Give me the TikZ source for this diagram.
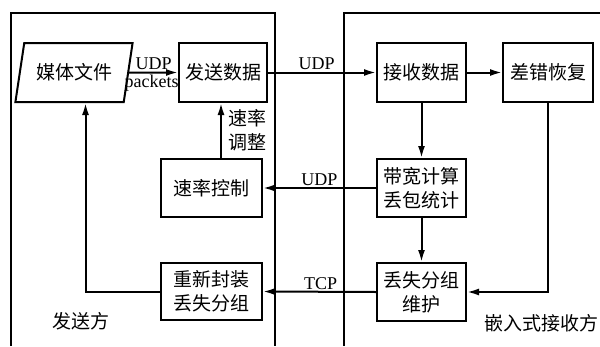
\documentclass[tikz,border=0pt]{standalone}
\usepackage{fontspec}
\setmainfont{Liberation Serif}
\newfontfamily\cjk{Noto Sans CJK SC}
\usetikzlibrary{shapes.geometric,arrows.meta}
\tikzset{
  box/.style={draw, line width=2pt, inner sep=0pt, align=center,
    font=\cjk\fontsize{19}{24}\selectfont},
  arr/.style={line width=2pt, -{Latex[length=12pt,width=7pt]}},
  lat/.style={font=\fontsize{18}{20}\selectfont, inner sep=1.5pt},
  side/.style={font=\cjk\fontsize{19}{24}\selectfont, inner sep=0pt},
  frame/.style={line width=2pt}
}
\begin{document}
\begin{tikzpicture}[x=1pt,y=-1pt]
\useasboundingbox[fill=white] (0,0) rectangle (600,346);
% containers
\draw[frame] (11,346) -- (11,13) -- (275,13) -- (275,346);
\draw[frame] (344,346) -- (344,13) -- (600,13);
% nodes
\node[box, trapezium, trapezium left angle=69, trapezium right angle=111,
  trapezium stretches=true, minimum width=118pt, minimum height=59pt] (mf) at (74,72.5) {媒体文件};
\node[box, minimum width=88pt, minimum height=59pt] (fs) at (223,72.5) {发送数据};
\node[box, minimum width=89pt, minimum height=59pt] (js) at (421.5,72.5) {接收数据};
\node[box, minimum width=90pt, minimum height=59pt] (cc) at (548,72.5) {差错恢复};
\node[box, minimum width=89pt, minimum height=58pt] (dk) at (421.5,188) {带宽计算\\丢包统计};
\node[box, minimum width=89pt, minimum height=58pt] (ls) at (421.5,292) {丢失分组\\维护};
\node[box, minimum width=101pt, minimum height=58pt] (sk) at (211.5,188) {速率控制};
\node[box, minimum width=101pt, minimum height=57pt] (rf) at (211.5,291.5) {重新封装\\丢失分组};
\node[side] (fsf) at (81,321) {发送方};
\node[side] (jsf) at (541,323) {嵌入式接收方};
% connectors
\draw[arr] (mf.east) -- node[lat, above] {UDP} node[lat, below, xshift=-2pt] {packets} (fs.west);
\draw[arr] (fs.east) -- node[lat, above, pos=0.45] {UDP} (js.west);
\draw[arr] (js.east) -- (cc.west);
\draw[arr] (js.south) -- (dk.north);
\draw[arr] (dk.south) -- (ls.north);
\draw[arr] (cc.south) |- (ls.east);
\draw[arr] (dk.west) -- node[lat, above, pos=0.5] {UDP} (sk.east);
\draw[arr] (ls.west) -- node[lat, above, pos=0.49] {TCP} (rf.east);
\draw[arr] ([xshift=-2pt]fs.south |- sk.north) -- node[right, side, align=left, xshift=6pt] {速率\\调整} ([xshift=-2pt]fs.south);
\draw[arr] (rf.west) -| ([xshift=11.5pt]mf.south);
\end{tikzpicture}
\end{document}
